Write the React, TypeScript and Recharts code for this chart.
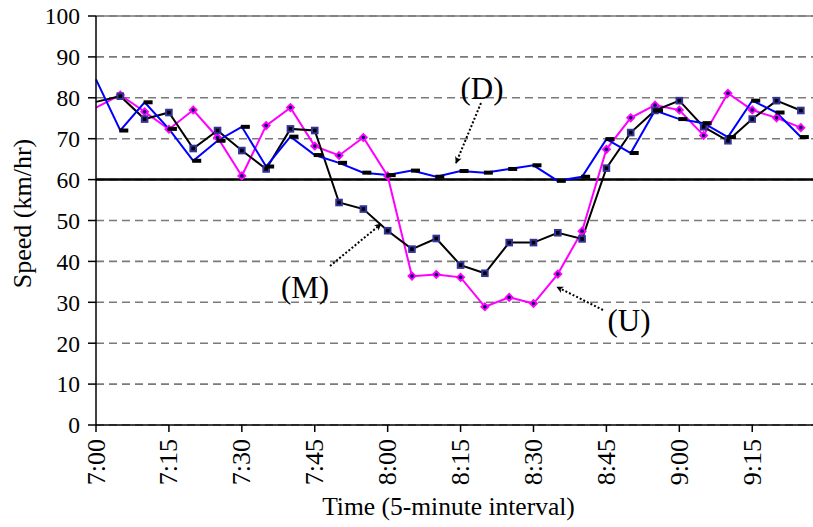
import { LineChart, Line, XAxis, YAxis, CartesianGrid, ReferenceLine } from "recharts";

// 5-minute intervals, 7:00 to 9:25
const times = [
  "7:00", "7:05", "7:10", "7:15", "7:20", "7:25", "7:30", "7:35", "7:40", "7:45",
  "7:50", "7:55", "8:00", "8:05", "8:10", "8:15", "8:20", "8:25", "8:30", "8:35",
  "8:40", "8:45", "8:50", "8:55", "9:00", "9:05", "9:10", "9:15", "9:20", "9:25",
];

// (D) downstream detector
const downstream = [
  84.5, 72.0, 78.9, 72.4, 64.6, 69.5, 72.9, 63.2, 70.5, 66.0,
  64.1, 61.7, 61.1, 62.2, 60.7, 62.1, 61.7, 62.6, 63.5, 59.7,
  60.7, 69.9, 66.5, 76.9, 74.8, 73.8, 70.4, 79.3, 76.4, 70.4,
];

// (M) middle detector
const middle = [
  79.0, 80.4, 74.8, 76.4, 67.6, 72.0, 67.1, 62.6, 72.4, 72.0,
  54.4, 52.8, 47.5, 43.0, 45.6, 39.1, 37.1, 44.6, 44.6, 47.0,
  45.5, 62.8, 71.5, 76.9, 79.3, 72.9, 69.5, 74.8, 79.3, 76.9,
];

// (U) upstream detector
const upstream = [
  77.6, 80.7, 76.6, 72.3, 77.0, 70.3, 60.9, 73.2, 77.6, 68.2,
  65.9, 70.3, 60.9, 36.4, 36.8, 36.1, 28.9, 31.2, 29.7, 36.9,
  47.4, 67.4, 75.1, 78.2, 77.0, 70.8, 81.1, 77.0, 75.1, 72.7,
];

const speedTicks = [0, 10, 20, 30, 40, 50, 60, 70, 80, 90, 100];
const timeTicks = [0, 3, 6, 9, 12, 15, 18, 21, 24, 27];
const speedLimit = 60;

const data = times.map((t, i) => ({
  i,
  time: t,
  D: downstream[i],
  M: middle[i],
  U: upstream[i],
}));

const FONT = "'Liberation Serif', 'Times New Roman', serif";

function DashDot(props: any) {
  const { cx, cy, index } = props;
  if (index === 0 || cx == null) return null;
  return <rect x={cx - 1} y={cy - 2} width={9} height={4} fill="#000" />;
}

function SquareDot(props: any) {
  const { cx, cy, index } = props;
  if (index === 0 || cx == null) return null;
  return (
    <rect
      x={cx - 2.8}
      y={cy - 2.8}
      width={5.6}
      height={5.6}
      fill="#000"
      stroke="#333399"
      strokeWidth={2}
    />
  );
}

function DiamondDot(props: any) {
  const { cx, cy, index } = props;
  if (index === 0 || cx == null) return null;
  const r = 4.8;
  return (
    <g>
      <polygon
        points={`${cx},${cy - r} ${cx + r},${cy} ${cx},${cy + r} ${cx - r},${cy}`}
        fill="#FF00FF"
      />
      <circle cx={cx} cy={cy} r={1.8} fill="#000066" />
    </g>
  );
}

function TimeTick(props: any) {
  const { x, y, payload } = props;
  const ty = y + 3;
  return (
    <text
      x={x}
      y={ty}
      transform={`rotate(-90 ${x} ${ty})`}
      textAnchor="end"
      dominantBaseline="central"
      fontFamily={FONT}
      fontSize={26}
      fill="#000"
    >
      {times[payload.value]}
    </text>
  );
}

function Arrow({ x1, y1, x2, y2 }: { x1: number; y1: number; x2: number; y2: number }) {
  return (
    <line
      x1={x1}
      y1={y1}
      x2={x2}
      y2={y2}
      stroke="#000"
      strokeWidth={2}
      strokeDasharray="2 2"
      markerEnd="url(#stealth)"
    />
  );
}

export default function App() {
  return (
    <div style={{ position: "relative", width: 813, height: 527, background: "#fff" }}>
      <style>{"body{margin:0}"}</style>
      <LineChart
        width={813}
        height={527}
        data={data}
        margin={{ top: 16, right: 0, bottom: 0, left: 0 }}
      >
        <CartesianGrid
          vertical={false}
          stroke="#7a7a7a"
          strokeWidth={1.6}
          strokeDasharray="8 5"
        />
        <XAxis
          dataKey="i"
          type="number"
          domain={[0, 29.5]}
          ticks={timeTicks}
          interval={0}
          height={102}
          tickSize={7}
          tickMargin={4}
          tick={<TimeTick />}
          stroke="#000"
          strokeWidth={1.5}
          label={(p: any) => {
            const vb = p.viewBox || { x: 96, y: 425, width: 717, height: 102 };
            return (
              <text
                x={vb.x + vb.width / 2 - 6}
                y={vb.y + vb.height - 12}
                textAnchor="middle"
                fontFamily={FONT}
                fontSize={25.5}
                fill="#000"
              >
                Time (5-minute interval)
              </text>
            );
          }}
        />
        <YAxis
          type="number"
          domain={[0, 100]}
          ticks={speedTicks}
          interval={0}
          width={96}
          tickSize={8}
          tickMargin={8}
          stroke="#000"
          strokeWidth={1.5}
          tick={{ fontFamily: FONT, fontSize: 23.5, fill: "#000" }}
          label={(p: any) => {
            const vb = p.viewBox || { x: 0, y: 16, width: 96, height: 409 };
            const cx = vb.x + 22;
            const cy = vb.y + vb.height / 2 - 7;
            return (
              <text
                x={cx}
                y={cy}
                transform={`rotate(-90 ${cx} ${cy})`}
                textAnchor="middle"
                dominantBaseline="central"
                fontFamily={FONT}
                fontSize={26}
                fill="#000"
              >
                Speed (km/hr)
              </text>
            );
          }}
        />
        <ReferenceLine y={100} stroke="#7a7a7a" strokeWidth={1.6} />
        <ReferenceLine y={speedLimit} stroke="#000" strokeWidth={2.5} />
        <Line
          dataKey="U"
          stroke="#FF00FF"
          strokeWidth={2}
          dot={<DiamondDot />}
          activeDot={false}
          isAnimationActive={false}
        />
        <Line
          dataKey="M"
          stroke="#000"
          strokeWidth={2}
          dot={<SquareDot />}
          activeDot={false}
          isAnimationActive={false}
        />
        <Line
          dataKey="D"
          stroke="#0000FF"
          strokeWidth={2}
          dot={<DashDot />}
          activeDot={false}
          isAnimationActive={false}
        />
      </LineChart>
      <svg
        width={813}
        height={527}
        style={{ position: "absolute", left: 0, top: 0, pointerEvents: "none" }}
      >
        <defs>
          <marker
            id="stealth"
            viewBox="0 0 10 10"
            refX="9"
            refY="5"
            markerWidth="7"
            markerHeight="7"
            orient="auto"
            markerUnits="userSpaceOnUse"
          >
            <path d="M0,0 L10,5 L0,10 L3,5 Z" fill="#000" />
          </marker>
        </defs>
        <g fontFamily={FONT} fontSize={31} fill="#000" textAnchor="middle">
          <text x={482} y={99}>(D)</text>
          <text x={305} y={298}>(M)</text>
          <text x={629} y={331}>(U)</text>
        </g>
        <Arrow x1={481} y1={103} x2={456} y2={163} />
        <Arrow x1={330} y1={266} x2={381} y2={224} />
        <Arrow x1={603} y1={310} x2={557} y2={287} />
      </svg>
    </div>
  );
}
